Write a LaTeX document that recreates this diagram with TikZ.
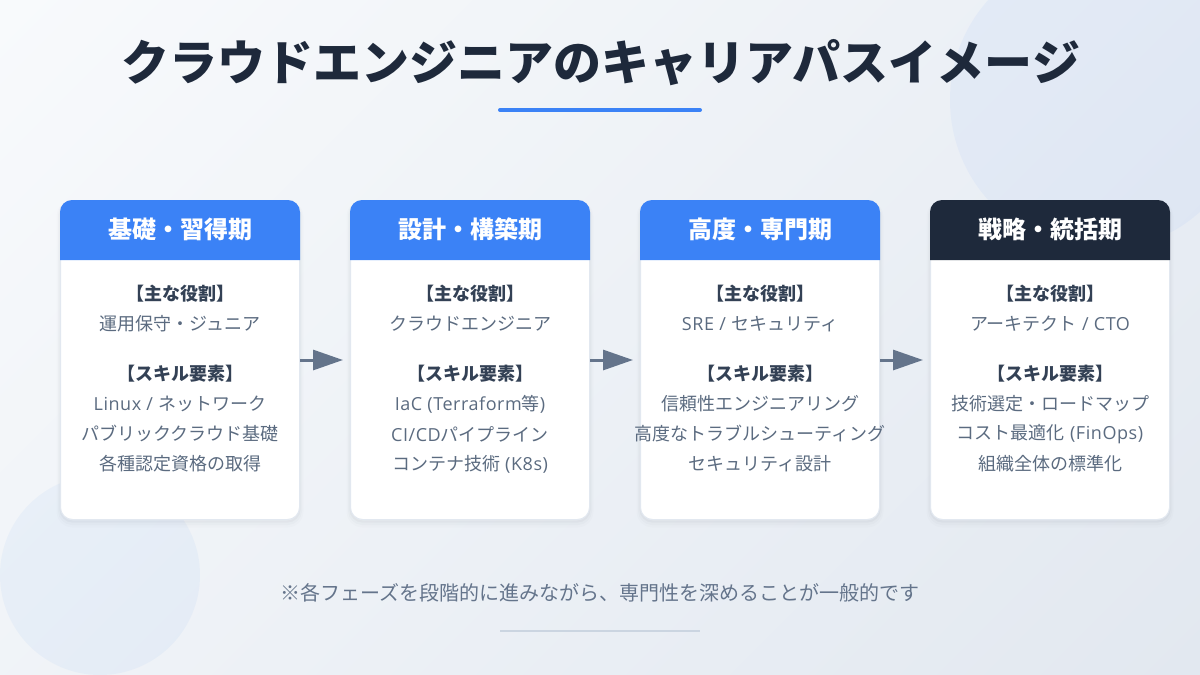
\documentclass[tikz,border=0pt]{standalone}
\usepackage{fontspec}
\setmainfont{Noto Sans CJK JP}
\newfontfamily\latfont[LetterSpace=3]{Open Sans}
\newfontfamily\titlefont{Noto Sans CJK JP Black}
\usetikzlibrary{arrows.meta}
\definecolor{navy}{HTML}{1E293B}
\definecolor{headblue}{HTML}{3B82F6}
\definecolor{labelgray}{HTML}{334155}
\definecolor{bodygray}{HTML}{5B6B80}
\definecolor{arrowgray}{HTML}{64748B}
\definecolor{footgray}{HTML}{64748B}
\definecolor{cardline}{HTML}{E2E8F0}
\definecolor{rulegray}{HTML}{CBD5E1}
\definecolor{bgtop}{HTML}{F8FAFC}
\definecolor{bgbottom}{HTML}{E2E8F0}
\pgfdeclarehorizontalshading{bgramp}{100bp}{color(0bp)=(bgtop); color(14.64bp)=(bgtop); color(85.36bp)=(bgbottom); color(100bp)=(bgbottom)}
\newcommand{\lat}[1]{{\latfont #1}}
\newcommand{\headfill}[2]{\fill[#2] ([yshift=-60pt]#1.north west) {[rounded corners=12pt] -- (#1.north west) -- (#1.north east)} -- ([yshift=-60pt]#1.north east) -- cycle;}
\tikzset{
  card/.style={draw=cardline,line width=1pt,fill=white,rounded corners=12pt,minimum width=239pt,minimum height=319pt,inner sep=0pt,
    preaction={draw=navy,draw opacity=.03,fill=none,line width=2pt,transform canvas={yshift=-2pt}},
    preaction={draw=navy,draw opacity=.02,fill=none,line width=5pt,transform canvas={yshift=-3pt}},
    preaction={draw=navy,draw opacity=.012,fill=none,line width=8pt,transform canvas={yshift=-4pt}}},
  headtext/.style={text=white,font=\fontsize{24}{28}\selectfont\bfseries},
  rolelabel/.style={text=labelgray,font=\fontsize{18}{22}\selectfont\bfseries},
  bodytext/.style={text=bodygray,font=\fontsize{18}{22}\selectfont},
  flow/.style={draw=arrowgray,line width=3pt,-{Triangle[length=30pt,width=20pt,fill=arrowgray]},shorten >=7pt},
}
\begin{document}
\begin{tikzpicture}[x=1pt,y=-1pt]
\useasboundingbox (0,0) rectangle (1200,675);
\shade[shading=bgramp,shading angle=-45] (0,0) rectangle (1200,675);
% background circles
\begin{scope}
\clip (0,0) rectangle (1200,675);
\fill[headblue,opacity=.05] (1100,100) circle (150);
\fill[headblue,opacity=.05] (100,575) circle (100);
\end{scope}
% title
\node (title) at (601,63) {\titlefont\fontsize{48}{56}\selectfont\textcolor{navy}{クラウドエンジニアのキャリアパスイメージ}};
\coordinate (ruleA) at (500,110);
\coordinate (ruleB) at (700,110);
\draw[headblue,line width=4pt,line cap=round] (ruleA) -- (ruleB);
% cards
\node[card] (card1) at (180,360)  {};
\node[card] (card2) at (470,360)  {};
\node[card] (card3) at (760,360)  {};
\node[card] (card4) at (1050,360) {};
\headfill{card1}{headblue}
\headfill{card2}{headblue}
\headfill{card3}{headblue}
\headfill{card4}{navy}
\node[headtext] (head1) at (180,229)  {基礎・習得期};
\node[headtext] (head2) at (470,229)  {設計・構築期};
\node[headtext] (head3) at (760,229)  {高度・専門期};
\node[headtext] (head4) at (1050,229) {戦略・統括期};
% card 1
\node[rolelabel] (role1) at (180,294) {【主な役割】};
\node[bodytext]  (job1)  at (180,324) {運用保守・ジュニア};
\node[rolelabel] (skill1) at (180,374) {【スキル要素】};
\node[bodytext]  (a1)    at (180,404) {\lat{Linux / }ネットワーク};
\node[bodytext]  (b1)    at (180,434) {パブリッククラウド基礎};
\node[bodytext]  (c1)    at (180,464) {各種認定資格の取得};
% card 2
\node[rolelabel] (role2) at (470,294) {【主な役割】};
\node[bodytext]  (job2)  at (470,324) {クラウドエンジニア};
\node[rolelabel] (skill2) at (470,374) {【スキル要素】};
\node[bodytext]  (a2)    at (470,404) {\lat{IaC (Terraform}等\lat{)}};
\node[bodytext]  (b2)    at (470,434) {\lat{CI/CD}パイプライン};
\node[bodytext]  (c2)    at (470,464) {コンテナ技術\lat{ (K8s)}};
% card 3
\node[rolelabel] (role3) at (760,294) {【主な役割】};
\node[bodytext]  (job3)  at (760,324) {\lat{SRE / }セキュリティ};
\node[rolelabel] (skill3) at (760,374) {【スキル要素】};
\node[bodytext]  (a3)    at (760,404) {信頼性エンジニアリング};
\node[bodytext]  (b3)    at (760,434) {高度なトラブルシューティング};
\node[bodytext]  (c3)    at (760,464) {セキュリティ設計};
% card 4
\node[rolelabel] (role4) at (1050,294) {【主な役割】};
\node[bodytext]  (job4)  at (1050,324) {アーキテクト\lat{ / CTO}};
\node[rolelabel] (skill4) at (1050,374) {【スキル要素】};
\node[bodytext]  (a4)    at (1050,404) {技術選定・ロードマップ};
\node[bodytext]  (b4)    at (1050,434) {コスト最適化\lat{ (FinOps)}};
\node[bodytext]  (c4)    at (1050,464) {組織全体の標準化};
% arrows
\draw[flow] (card1) -- (card2);
\draw[flow] (card2) -- (card3);
\draw[flow] (card3) -- (card4);
% footer
\node[text=footgray,font=\fontsize{20}{24}\selectfont] (note) at (600,593) {※各フェーズを段階的に進みながら、専門性を深めることが一般的です};
\coordinate (lineA) at (500,631);
\coordinate (lineB) at (700,631);
\draw[rulegray,line width=2pt] (lineA) -- (lineB);
\end{tikzpicture}
\end{document}
